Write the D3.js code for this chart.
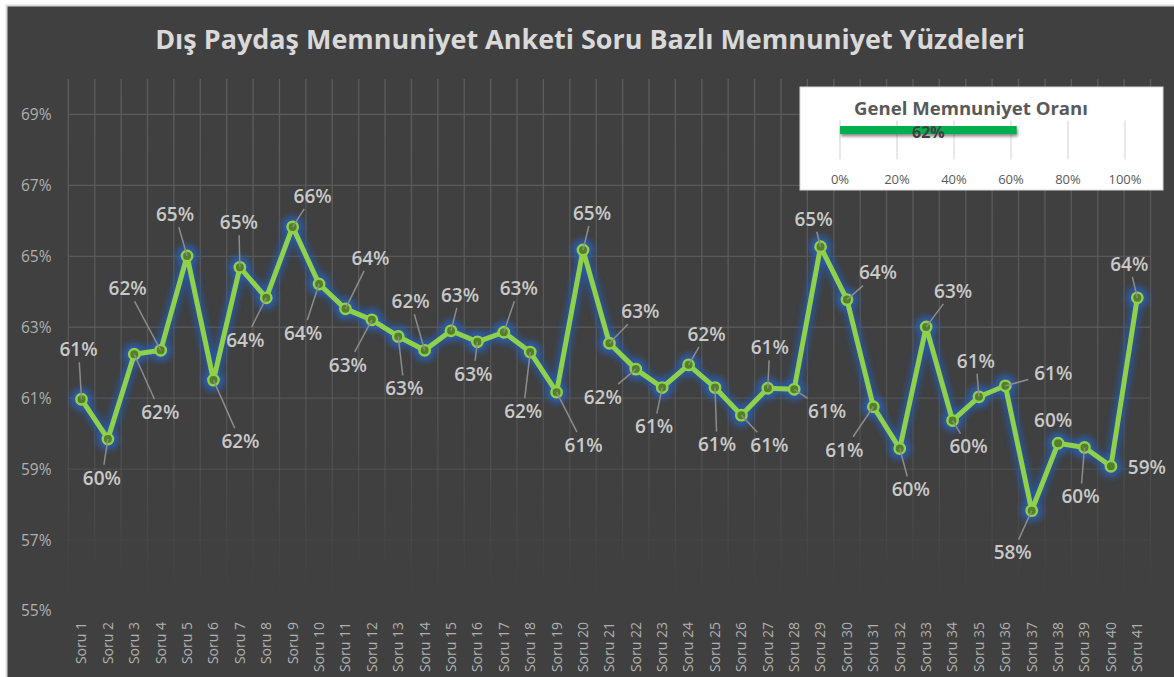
<!DOCTYPE html>
<html><head><meta charset="utf-8">
<script src="https://cdn.jsdelivr.net/npm/d3@7"></script>
<style>html,body{margin:0;padding:0;background:#fff;}svg{display:block;font-family:"Open Sans",sans-serif;}</style>
</head><body>
<script>
// ---------- data ----------
const titleText = "Dış Paydaş Memnuniyet Anketi Soru Bazlı Memnuniyet Yüzdeleri";
const categories = ["Soru 1","Soru 2","Soru 3","Soru 4","Soru 5","Soru 6","Soru 7","Soru 8","Soru 9","Soru 10",
  "Soru 11","Soru 12","Soru 13","Soru 14","Soru 15","Soru 16","Soru 17","Soru 18","Soru 19","Soru 20",
  "Soru 21","Soru 22","Soru 23","Soru 24","Soru 25","Soru 26","Soru 27","Soru 28","Soru 29","Soru 30",
  "Soru 31","Soru 32","Soru 33","Soru 34","Soru 35","Soru 36","Soru 37","Soru 38","Soru 39","Soru 40","Soru 41"];
const values = [0.6097,0.5985,0.6224,0.6235,0.6501,0.6151,0.6469,0.6383,0.6583,0.6422,
  0.6352,0.6321,0.6274,0.6235,0.6290,0.6259,0.6286,0.6230,0.6117,0.6518,
  0.6255,0.6182,0.6130,0.6194,0.6130,0.6052,0.6128,0.6125,0.6527,0.6378,
  0.6076,0.5958,0.6301,0.6037,0.6104,0.6135,0.5783,0.5973,0.5961,0.5908,0.6383];
const yTicks = [0.55,0.57,0.59,0.61,0.63,0.65,0.67,0.69];
const yDomain = [0.55,0.70];
const insetTitle = "Genel Memnuniyet Oranı";
const overallValue = 0.62;
const insetTicks = [0,0.2,0.4,0.6,0.8,1.0];

// ---------- layout (label placement offsets in px, not data) ----------
const labelOffsets = [[-3,-50],[-6,39],[26,58],[-33,-62],[-12,-42],[27,61],[-1,-45],[-21,42],[20,-31],[-16,49],
  [25,-51],[-24,45],[6,52],[-14,-49],[9,-36],[-4,32],[15,-44],[-7,59],[27,53],[9,-37],
  [31,-32],[-33,28],[-8,39],[18,-31],[2,57],[28,30],[2,-41],[33,22],[-7,-28],[31,-27],
  [-29,43],[11,41],[27,-36],[16,26],[-3,-36],[48,-13],[-19,42],[-5,-23],[-4,49],[36,1],[-8,-34]];

const W = 1174, H = 677;
const plot = {left:68.3, right:1150.5, top:79, bottom:611};

const svg = d3.select("body").append("svg").attr("width",W).attr("height",H);
const defs = svg.append("defs");

// gridline fading gradient
const g1 = defs.append("linearGradient").attr("id","gridFade").attr("gradientUnits","userSpaceOnUse")
  .attr("x1",0).attr("y1",plot.top).attr("x2",0).attr("y2",plot.bottom);
[[0,1],[0.55,0.8],[0.82,0.3],[0.95,0.05],[1,0]].forEach(([o,a])=>g1.append("stop").attr("offset",o).attr("stop-color","#5c5c5c").attr("stop-opacity",a));

const glow = defs.append("filter").attr("id","glow").attr("filterUnits","userSpaceOnUse")
  .attr("x",0).attr("y",0).attr("width",W).attr("height",H);
glow.append("feGaussianBlur").attr("stdDeviation",3.4);

const shadow = defs.append("filter").attr("id","shadow").attr("x","-10%").attr("y","-100%").attr("width","120%").attr("height","400%");
shadow.append("feDropShadow").attr("dx",1).attr("dy",2.5).attr("stdDeviation",1.8).attr("flood-color","#000").attr("flood-opacity",0.45);

// background
svg.append("rect").attr("x",6.5).attr("y",5.5).attr("width",W-6.5+2).attr("height",H).attr("fill","#404040")
  .attr("stroke","#d9d9d9").attr("stroke-width",2);

// title
const title = svg.append("text").attr("x",590).attr("y",48.5).attr("text-anchor","middle")
  .attr("fill","#d9d9d9").attr("font-weight",700).attr("font-size",24).text(titleText);
{const w = title.node().getComputedTextLength(); title.attr("font-size",24*870/w);}

// scales
const x = d3.scaleBand().domain(categories).range([plot.left,plot.right]).padding(0);
const cx = d => x(d) + x.bandwidth()/2;
const y = d3.scaleLinear().domain(yDomain).range([plot.bottom,plot.top]);

// grid
const grid = svg.append("g");
grid.selectAll("line.h").data(yTicks).join("line").attr("class","h")
  .attr("x1",plot.left).attr("x2",plot.right).attr("y1",d=>y(d)).attr("y2",d=>y(d))
  .attr("stroke","url(#gridFade)").attr("stroke-width",1.3);
const vlines = x.domain().map(d=>x(d)).concat([plot.right]);
grid.selectAll("line.v").data(vlines).join("line").attr("class","v")
  .attr("x1",d=>d).attr("x2",d=>d).attr("y1",plot.top).attr("y2",plot.bottom)
  .attr("stroke","url(#gridFade)").attr("stroke-width",1.3);

// y axis
const yAxis = svg.append("g").attr("transform",`translate(${51.5},0)`)
  .call(d3.axisLeft(y).tickValues(yTicks).tickFormat(d3.format(".0%")).tickSize(0).tickPadding(0));
yAxis.select(".domain").remove();
yAxis.selectAll("text").attr("fill","#b0b0b0").attr("font-size",15.5).attr("font-family","Open Sans");

// x axis
const xAxis = svg.append("g").attr("transform",`translate(0,${622})`)
  .call(d3.axisBottom(x).tickSize(0).tickPadding(0));
xAxis.select(".domain").remove();
xAxis.selectAll("text").attr("fill","#b0b0b0").attr("font-size",14).attr("font-family","Open Sans")
  .attr("text-anchor","end").attr("transform","rotate(-90)").attr("x",0).attr("y",0).attr("dy","0.35em");

// line
const pts = categories.map((c,i)=>({c, v:values[i], px:cx(c), py:y(values[i]), off:labelOffsets[i]}));
const lineGen = d3.line().x(d=>d.px).y(d=>d.py);
const glowG = svg.append("g").attr("filter","url(#glow)").attr("opacity",0.9);
glowG.append("path").datum(pts).attr("d",lineGen).attr("fill","none").attr("stroke","#2858a8").attr("stroke-width",11).attr("stroke-linejoin","round");
glowG.selectAll("circle").data(pts).join("circle").attr("cx",d=>d.px).attr("cy",d=>d.py).attr("r",11).attr("fill","#2b5fb5");

svg.append("path").datum(pts).attr("d",lineGen).attr("fill","none").attr("stroke","#8fd14a").attr("stroke-width",5).attr("stroke-linejoin","round");
svg.append("g").selectAll("circle").data(pts).join("circle").attr("cx",d=>d.px).attr("cy",d=>d.py).attr("r",5.2)
  .attr("fill","#567f2c").attr("stroke","#8fd14a").attr("stroke-width",2.4);

// labels + leaders
const fmt = d3.format(".0%");
const lblSize = 19, hw = 22, hh = 10;
const leaders = svg.append("g");
pts.forEach(d=>{
  const lx = d.px + d.off[0], ly = d.py + d.off[1];
  const vx = lx - d.px, vy = ly - d.py;
  const bw = hw+3, bh = hh+3;
  const tt = Math.max(Math.abs(vx)>bw ? (Math.abs(vx)-bw)/Math.abs(vx) : 0, Math.abs(vy)>bh ? (Math.abs(vy)-bh)/Math.abs(vy) : 0);
  const len = Math.hypot(vx*tt, vy*tt);
  if (len > 12) {
    leaders.append("line").attr("x1",d.px).attr("y1",d.py).attr("x2",d.px+vx*tt).attr("y2",d.py+vy*tt)
      .attr("stroke","#8c8c8c").attr("stroke-width",1.5);
  }
});
svg.append("g").selectAll("text").data(pts).join("text")
  .attr("x",d=>d.px+d.off[0]).attr("y",d=>d.py+d.off[1]+0.36*lblSize)
  .attr("text-anchor","middle").attr("font-size",lblSize).attr("font-weight",600)
  .attr("fill","#c9c9c9").text(d=>fmt(d.v));

// inset chart
const inset = svg.append("g");
inset.append("rect").attr("x",800).attr("y",87).attr("width",363).attr("height",103).attr("fill","#fff").attr("stroke","#d9d9d9").attr("stroke-width",1);
const ix = d3.scaleLinear().domain([0,1]).range([840,1125]);
inset.selectAll("line.g").data(insetTicks).join("line").attr("class","g")
  .attr("x1",d=>ix(d)).attr("x2",d=>ix(d)).attr("y1",120.5).attr("y2",159.5).attr("stroke","#d9d9d9").attr("stroke-width",1.2);
inset.selectAll("text.t").data(insetTicks).join("text").attr("class","t")
  .attr("x",d=>ix(d)).attr("y",184).attr("text-anchor","middle").attr("font-size",13).attr("fill","#595959").text(d3.format(".0%"));
inset.append("rect").attr("x",ix(0)).attr("y",126).attr("width",ix(overallValue)-ix(0)).attr("height",8)
  .attr("fill","#00b050").attr("filter","url(#shadow)");
inset.append("text").attr("x",(ix(0)+ix(overallValue))/2).attr("y",137.5).attr("text-anchor","middle")
  .attr("font-size",16).attr("font-weight",700).attr("fill","#404040").text(fmt(overallValue));
const it = inset.append("text").attr("x",971).attr("y",114.5).attr("text-anchor","middle")
  .attr("font-size",16).attr("font-weight",700).attr("fill","#595959").text(insetTitle);
{const w = it.node().getComputedTextLength(); it.attr("font-size",16*234/w);}
</script>
</body></html>
